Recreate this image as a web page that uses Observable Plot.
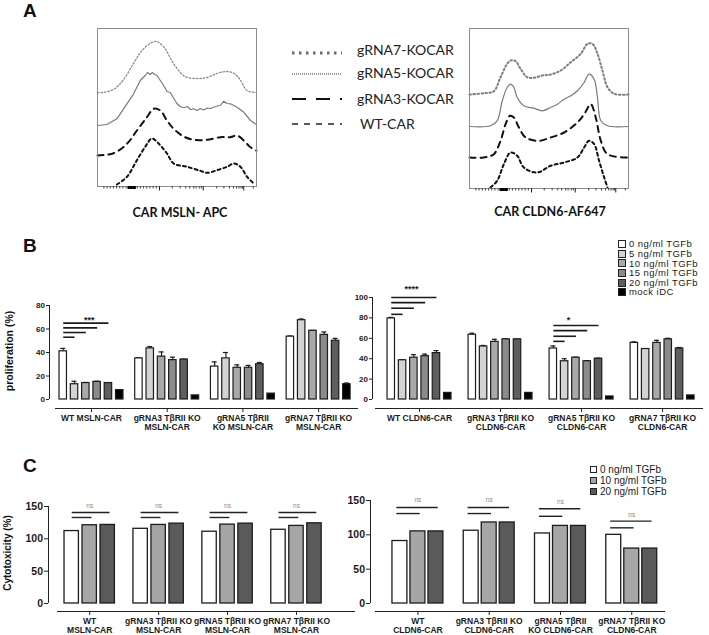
<!DOCTYPE html>
<html>
<head>
<meta charset="utf-8">
<script src="https://cdn.jsdelivr.net/npm/d3@7"></script>
<script src="https://cdn.jsdelivr.net/npm/@observablehq/plot@0.6"></script>
<style>
html,body{margin:0;padding:0;background:#fff;}
#root{position:relative;width:709px;height:635px;overflow:hidden;background:#fff;font-family:"Liberation Sans",Arial,Helvetica,sans-serif;color:#111;}
.t{position:absolute;white-space:nowrap;line-height:1;}
</style>
</head>
<body>
<div id="root"></div>
<script>
// ================= DATA =================
// ---- Panel A: flow histograms (x = % of axis width, y = relative count) ----
const aLegendLabels = ["gRNA7-KOCAR", "gRNA5-KOCAR", "gRNA3-KOCAR", "WT-CAR"];
const histMajorTicks = [39, 66.5, 92];
const histMinorTicks = [4, 6, 8, 10, 12, 14, 16, 18, 25, 27, 29, 31, 33, 35, 37, 47, 52, 55.5, 58, 60.5, 62, 64, 65.3, 75, 79.5, 83, 85.5, 87.5, 89, 90.3, 91.2, 98];
const histDenseTicks = [19.5, 20.5, 21.5, 22.5, 23.5];

const mslnG7x = [0, 3, 10, 16, 23, 28, 33, 37, 42, 46, 50, 55, 63, 69, 75, 81, 86, 90, 94, 100];
const mslnG7y = [0, 0, 3, 12, 30, 42, 49, 51, 45, 34, 24, 16, 14, 15, 19, 21, 19, 12, 2, 0];
const mslnG5x = [0, 5.9, 12.2, 18.5, 22.7, 26.9, 30, 31.5, 33, 34.5, 36, 37.4, 39.5, 41.6, 43.7, 45.8, 48, 50, 52, 54.2, 56.5, 58.5, 60.5, 62.6, 64.7, 66.8, 69, 71, 73.1, 75.2, 77.3, 79.4, 81.5, 83.6, 87.8, 92, 96.2, 100];
const mslnG5y = [0, 1, 6.7, 21.7, 31.7, 45, 50, 53, 51, 53, 51, 50, 45, 40, 34, 33, 27, 22, 19, 17.7, 19, 16, 16.7, 15, 17, 15.5, 17.5, 17, 18.3, 19.5, 20, 24.3, 22, 21.7, 18.3, 13.3, 5, 1];
const mslnG3x = [0, 10.1, 18.5, 24.8, 31.1, 35.3, 39.5, 43.7, 47.9, 54.2, 60.5, 68.9, 77.3, 83.6, 87.8, 92, 96.2, 100];
const mslnG3y = [0, 2.3, 11.7, 25, 38.3, 46.7, 45, 35, 26.7, 19, 15.7, 15.7, 18.3, 18.3, 20, 15, 8.3, 5];
const mslnWTx = [12.2, 18.5, 24.8, 30, 34.2, 38.4, 43.7, 47.9, 56.3, 64.7, 68.9, 75.2, 81.5, 85.7, 89.9, 94.1, 98.3];
const mslnWTy = [0, 7.7, 24.3, 37.7, 46, 41, 31, 21, 17.7, 13.7, 11.7, 14.3, 17.7, 21, 17.7, 7.7, 1];
const mslnOffsets = [94, 61, 31, 2];

const cldnG7x = [0, 9, 15.3, 19.5, 23.7, 25.8, 29, 32.1, 36.3, 40.5, 45.8, 51, 57.4, 63.7, 70, 74.2, 77.3, 80.5, 83.6, 86.8, 91, 100];
const cldnG7y = [0, 1.3, 3.3, 17.3, 30.7, 34, 33.3, 25.7, 17.3, 16.7, 19, 20, 24, 32.3, 40.7, 50.7, 50.7, 40.7, 24, 7.3, 0.7, 0];
const cldnG5x = [0, 13.2, 17.4, 20.6, 23.7, 25.8, 27.9, 30, 34.2, 40.5, 45.8, 51, 55.3, 59.5, 63.7, 67.9, 72.1, 75.2, 78.4, 80.5, 82.6, 86.8, 100];
const cldnG5y = [0, 0.7, 5.7, 25.7, 39, 42.3, 39, 29, 20.7, 18.3, 15.7, 19, 22.3, 27.3, 30.7, 35.7, 44, 52.3, 47.3, 29, 5.7, 0.7, 0];
const cldnG3x = [0, 9, 15.3, 19.5, 22.7, 25.4, 27.9, 31.1, 35.3, 43.7, 51, 59.5, 67.9, 72.1, 76.3, 79.4, 82.6, 86.8, 100];
const cldnG3y = [0, 0, 3.3, 16.7, 33.3, 41.7, 40, 30, 20, 16.7, 20, 25, 35, 43.3, 53.3, 40, 16.7, 3.3, 0];
const cldnWTx = [13.2, 17.4, 21.6, 25.8, 30, 34.2, 42.6, 51, 59.5, 67.9, 72.1, 75.2, 78.4, 81.5, 84.7, 86.8];
const cldnWTy = [0, 6.7, 23.3, 35, 31.7, 20, 15, 21.7, 25, 30, 40, 46.7, 43.3, 26.7, 10, 0];
const cldnOffsets = [94, 62, 31, 1];

// ---- Panel B: proliferation (%) ----
const bDoses = ["0 ng/ml TGFb", "5 ng/ml TGFb", "10 ng/ml TGFb", "15 ng/ml TGFb", "20 ng/ml TGFb", "mock iDC"];
const bColors = ["#ffffff", "#d3d3d3", "#a9a9a9", "#8b8b8b", "#5e5e5e", "#000000"];
const bGroupsMsln = ["WT MSLN-CAR", "gRNA3 TβRII KO\nMSLN-CAR", "gRNA5 TβRII\nKO MSLN-CAR", "gRNA7 TβRII KO\nMSLN-CAR"];
const bGroupsCldn = ["WT CLDN6-CAR", "gRNA3 TβRII KO\nCLDN6-CAR", "gRNA5 TβRII KO\nCLDN6-CAR", "gRNA7 TβRII KO\nCLDN6-CAR"];
const mslnProlif = [[41, 13, 14, 15, 14, 8], [35, 43.5, 36.5, 33.5, 34, 3.5], [28, 35, 27, 27, 30, 5], [53.5, 67.5, 58.5, 55, 50, 13]];
const mslnProlifErr = [[2.5, 2.5, 0.5, 0.5, 0.3, 0], [0.5, 1.5, 4, 2.5, 0.3, 0], [4, 5, 2.5, 2, 1.5, 0], [0.5, 1, 0.3, 2.5, 2, 1]];
const cldnProlif = [[79.5, 38.5, 41, 42.5, 45.5, 6.5], [63.5, 52, 56.5, 59, 59, 6.5], [50, 37.5, 41, 37.5, 40, 3], [55.5, 49.5, 55.5, 59, 50, 4]];
const cldnProlifErr = [[1, 0.5, 3, 2, 2.5, 0], [1.5, 1, 2.5, 0.5, 0.3, 0], [2.5, 2.5, 0.5, 0.5, 0.5, 0], [1, 0, 2.5, 1, 1, 0]];
const bTicksMsln = [0, 20, 40, 60, 80];
const bTicksCldn = [0, 20, 40, 60, 80, 100];
// significance brackets: group index, line levels (to dose 1..4), star label, its level and position
const mslnSig = [{group: 0, levels: [53, 57, 61, 65], label: "***", labelLevel: 67.8, labelDose: 2, labelShift: 0.3}];
const cldnSig = [
  {group: 0, levels: [83.5, 89.5, 95, 100], label: "****", labelLevel: 108.5, labelDose: 2, labelShift: -0.2},
  {group: 2, levels: [57, 62, 67.5, 72.5], label: "*", labelLevel: 78, labelDose: 1, labelShift: 0.35}
];

// ---- Panel C: cytotoxicity (%) ----
const cDoses = ["0 ng/ml TGFb", "10 ng/ml TGFb", "20 ng/ml TGFb"];
const cColors = ["#ffffff", "#a6a6a6", "#5a5a5a"];
const cGroupsMsln = ["WT\nMSLN-CAR", "gRNA3 TβRII KO\nMSLN-CAR", "gRNA5 TβRII KO\nMSLN-CAR", "gRNA7 TβRII KO\nMSLN-CAR"];
const cGroupsCldn = ["WT\nCLDN6-CAR", "gRNA3 TβRII KO\nCLDN6-CAR", "gRNA5 TβRII\nKO CLDN6-CAR", "gRNA7 TβRII KO\nCLDN6-CAR"];
const mslnCyto = [[112, 121, 121.5], [115.5, 121.5, 123.5], [111, 122, 123.5], [114, 120, 124]];
const cldnCyto = [[91, 105, 105], [106, 118, 118], [102, 113, 113], [100, 80, 80]];
const cTicks = [0, 50, 100, 150];
// ns brackets per group: [lower line, upper line, "ns" label]
const mslnNs = [[133, 140.7, 151.5], [133, 140.7, 151.5], [133, 140.7, 151.5], [133, 140.7, 151.5]];
const cldnNs = [[131, 139.8, 151.4], [131, 139.8, 151.4], [127, 137.9, 147.5], [110.2, 119.9, 129.2]];

// ================= RENDER =================
const root = document.getElementById("root");
const plotStyle = {background: "transparent", fontFamily: '"Liberation Sans", Arial, Helvetica, sans-serif', fontSize: "8.5px", fontWeight: "bold", overflow: "visible", color: "#1a1a1a"};

function place(el, left, top) {
  el.style.position = "absolute";
  el.style.left = left + "px";
  el.style.top = top + "px";
  root.appendChild(el);
}
function txt(s, x, y, css, mode) {
  const d = document.createElement("div");
  d.className = "t";
  d.textContent = s;
  Object.assign(d.style, css || {});
  d.style.left = x + "px";
  d.style.top = y + "px";
  d.style.transform = mode === "center" ? "translate(-50%,-50%)" : mode === "rot" ? "translate(-50%,-50%) rotate(-90deg)" : "translate(0,-50%)";
  root.appendChild(d);
}

// ---------- Panel A ----------
function histogram(curves, offsets, styles, opt) {
  const marks = [];
  curves.forEach((c, k) => {
    const pts = c[0].map((x, i) => ({x, y: c[1][i] + offsets[k]}));
    const s = styles[k];
    marks.push(Plot.line(pts, {x: "x", y: "y", curve: s.curve, stroke: s.stroke, strokeWidth: s.width, strokeDasharray: s.dash}));
  });
  marks.push(Plot.frame({stroke: "#8d8d8d", strokeWidth: 1}));
  marks.push(Plot.axisX({ticks: histMinorTicks, tickSize: 2.5, tickFormat: () => "", label: null, stroke: "#444"}));
  marks.push(Plot.axisX({ticks: histDenseTicks, tickSize: 3, tickFormat: () => "", label: null, stroke: "#000", strokeWidth: 2}));
  marks.push(Plot.axisX({ticks: histMajorTicks, tickSize: 4.5, tickFormat: () => "", label: null, stroke: "#222"}));
  const svg = Plot.plot({
    width: opt.w, height: opt.h, marginLeft: 1, marginRight: 1, marginTop: 1, marginBottom: opt.mb,
    x: {domain: [0, 100]}, y: {domain: [0, opt.ymax], axis: null},
    style: plotStyle, marks
  });
  place(svg, opt.left, opt.top);
}

histogram(
  [[mslnG7x, mslnG7y], [mslnG5x, mslnG5y], [mslnG3x, mslnG3y], [mslnWTx, mslnWTy]], mslnOffsets,
  [
    {stroke: "#8a8a8a", width: 1.3, dash: "1.5,2", curve: "catmull-rom"},
    {stroke: "#7a7a7a", width: 1.2, dash: null, curve: "linear"},
    {stroke: "#111", width: 2, dash: "6,5", curve: "catmull-rom"},
    {stroke: "#111", width: 2, dash: "3,3", curve: "catmull-rom"}
  ],
  {w: 161, h: 169, mb: 10, ymax: 158, left: 96, top: 27}
);
histogram(
  [[cldnG7x, cldnG7y], [cldnG5x, cldnG5y], [cldnG3x, cldnG3y], [cldnWTx, cldnWTy]], cldnOffsets,
  [
    {stroke: "#7d7d7d", width: 2, dash: "1.5,2.5", curve: "catmull-rom"},
    {stroke: "#7a7a7a", width: 1.2, dash: null, curve: "catmull-rom"},
    {stroke: "#111", width: 2, dash: "6,5", curve: "catmull-rom"},
    {stroke: "#111", width: 2, dash: "3,3", curve: "catmull-rom"}
  ],
  {w: 161, h: 171, mb: 10, ymax: 160, left: 468, top: 27}
);

// legend for panel A (line swatches)
(function () {
  const styles = [
    {stroke: "#6a6a6a", width: 3, dash: "2.5,4.5"},
    {stroke: "#333", width: 1, dash: "1,1"},
    {stroke: "#111", width: 2, dash: "14,10"},
    {stroke: "#222", width: 1.5, dash: "6,6"}
  ];
  const lineY = [13, 34, 59, 84];
  const svg = d3.create("svg").attr("width", 60).attr("height", 100);
  aLegendLabels.forEach((l, i) => {
    svg.append("line").attr("x1", 4).attr("x2", 54).attr("y1", lineY[i]).attr("y2", lineY[i])
      .attr("stroke", styles[i].stroke).attr("stroke-width", styles[i].width).attr("stroke-dasharray", styles[i].dash);
  });
  place(svg.node(), 288, 40);
  const textY = [50, 73, 99, 124];
  aLegendLabels.forEach((l, i) => txt(l, i === 3 ? 360 : 357, textY[i], {fontFamily: "Lato, 'Open Sans', sans-serif", fontSize: "14px", color: "#222"}));
})();

txt("CAR MSLN- APC", 180, 213, {fontFamily: "Lato, sans-serif", fontWeight: "bold", fontSize: "12.5px"}, "center");
txt("CAR CLDN6-AF647", 550, 212, {fontFamily: "Lato, sans-serif", fontWeight: "bold", fontSize: "12.5px"}, "center");

// ---------- Bar charts (panels B, C) ----------
function barChart(o) {
  const nD = o.doses.length;
  const barC = (gi, di) => gi * o.gStep + di + o.bw / 2;
  const rows = [];
  o.groups.forEach((g, gi) => o.doses.forEach((d, di) => rows.push({
    dose: d, v: o.means[gi][di], e: o.errs ? o.errs[gi][di] : 0,
    x1: gi * o.gStep + di, x2: gi * o.gStep + di + o.bw, xc: barC(gi, di)
  })));
  const centers = o.groups.map((g, gi) => gi * o.gStep + (nD - 1 + o.bw) / 2);
  const labelOf = new Map(centers.map((c, i) => [c, o.groups[i]]));
  const errRows = rows.filter(r => r.e > 0);
  const marks = [
    Plot.ruleX([o.xDomain[0]], {y1: 0, y2: o.yTicks[o.yTicks.length - 1], stroke: "#222", strokeWidth: 1}),
    Plot.ruleY([o.yDomain[0]], {insetLeft: o.xLineInset, stroke: "#222", strokeWidth: 1}),
    Plot.axisY({ticks: o.yTicks, tickSize: o.yTickSize, tickPadding: 1.5, label: null, fontSize: o.yFont, tickFormat: d => String(d), stroke: "#222"}),
    Plot.axisX({ticks: centers, tickSize: 4, tickPadding: 1.5, label: null, tickFormat: c => labelOf.get(c), fontSize: o.xFont, lineHeight: 1.08, stroke: "#222"}),
    Plot.ruleX(errRows, {x: "xc", y1: "v", y2: r => r.v + r.e, stroke: "#1c1c1c", strokeWidth: 1.2}),
    Plot.ruleY(errRows, {y: r => r.v + r.e, x1: r => r.xc - 0.22, x2: r => r.xc + 0.22, stroke: "#1c1c1c", strokeWidth: 1.2}),
    Plot.rect(rows, {x1: "x1", x2: "x2", y1: 0, y2: "v", fill: "dose", stroke: "#1c1c1c", strokeWidth: o.barStroke})
  ];
  (o.sig || []).forEach(s => {
    const links = s.levels.map((lv, k) => ({x1: barC(s.group, 0), x2: barC(s.group, k + 1), y: lv}));
    marks.push(Plot.link(links, {x1: "x1", x2: "x2", y1: "y", y2: "y", stroke: "#1c1c1c", strokeWidth: 1.6}));
    marks.push(Plot.text([s], {x: d => barC(d.group, d.labelDose) + d.labelShift, y: "labelLevel", text: "label", fontSize: 9, fontWeight: "bold"}));
  });
  if (o.ns) {
    const nsLines = [];
    const nsText = [];
    o.ns.forEach((lv, gi) => {
      const start = barC(gi, 0) + o.nsStart;
      nsLines.push({x1: start, x2: barC(gi, 1) + 0.1, y: lv[0]});
      nsLines.push({x1: start, x2: barC(gi, 2) + 0.1, y: lv[1]});
      nsText.push({x: barC(gi, 1), y: lv[2]});
    });
    marks.push(Plot.link(nsLines, {x1: "x1", x2: "x2", y1: "y", y2: "y", stroke: "#222", strokeWidth: 1.4}));
    marks.push(Plot.text(nsText, {x: "x", y: "y", text: () => "ns", fontSize: 6.5, fontWeight: "normal", fill: "#888"}));
  }
  const svg = Plot.plot({
    width: o.width, height: o.height,
    marginLeft: o.marginLeft, marginRight: 2, marginTop: o.marginTop, marginBottom: o.marginBottom,
    x: {domain: o.xDomain}, y: {domain: o.yDomain},
    color: {domain: o.doses, range: o.colors},
    style: plotStyle, marks
  });
  place(svg, o.left, o.top);
}

// Panel B
barChart({
  groups: bGroupsMsln, doses: bDoses, colors: bColors, means: mslnProlif, errs: mslnProlifErr, sig: mslnSig,
  gStep: 6.7, bw: 0.66, xDomain: [-0.885, 26.46], yDomain: [-7.66, 80], yTicks: bTicksMsln,
  xLineInset: 6, yFont: 8, xFont: 8.5, yTickSize: 3, barStroke: 1.2,
  width: 360, height: 143, marginLeft: 49, marginTop: 15, marginBottom: 25, left: 0, top: 290
});
barChart({
  groups: bGroupsCldn, doses: bDoses, colors: bColors, means: cldnProlif, errs: cldnProlifErr, sig: cldnSig,
  gStep: 7.17, bw: 0.66, xDomain: [-1.33, 27.96], yDomain: [-8.8, 100], yTicks: bTicksCldn,
  xLineInset: 3, yFont: 8, xFont: 8.5, yTickSize: 3, barStroke: 1.2,
  width: 365, height: 151, marginLeft: 32, marginTop: 15, marginBottom: 25, left: 340, top: 282
});
// Panel C
barChart({
  groups: cGroupsMsln, doses: cDoses, colors: cColors, means: mslnCyto, ns: mslnNs, nsStart: 0,
  gStep: 3.83, bw: 0.8, xDomain: [-0.89, 16.17], yDomain: [-12.4, 150], yTicks: cTicks,
  xLineInset: 9, yFont: 10.5, xFont: 8.5, yTickSize: 4, barStroke: 1.3,
  width: 357, height: 155, marginLeft: 48, marginTop: 26, marginBottom: 24, left: 0, top: 480
});
barChart({
  groups: cGroupsCldn, doses: cDoses, colors: cColors, means: cldnCyto, ns: cldnNs, nsStart: -0.2,
  gStep: 3.96, bw: 0.83, xDomain: [-1.22, 15.17], yDomain: [-11.65, 150], yTicks: cTicks,
  xLineInset: 5, yFont: 10.5, xFont: 8.5, yTickSize: 4, barStroke: 1.3,
  width: 327, height: 161, marginLeft: 30, marginTop: 26, marginBottom: 24, left: 340, top: 474
});

// axis titles
txt("proliferation (%)", 9, 351, {fontWeight: "bold", fontSize: "10.5px"}, "rot");
txt("Cytotoxicity (%)", 8, 553, {fontWeight: "bold", fontSize: "10px"}, "rot");

// swatch legends
function swatchLegend(labels, colors, left, top, rowH, fontSize, sw, gap, spacing) {
  const box = document.createElement("div");
  box.style.position = "absolute";
  box.style.left = left + "px";
  box.style.top = top + "px";
  labels.forEach((l, i) => {
    const row = document.createElement("div");
    row.style.cssText = `display:flex;align-items:center;height:${rowH}px;line-height:${rowH}px;font-size:${fontSize}px;letter-spacing:${spacing}px;white-space:nowrap;color:#1a1a1a;overflow:visible;`;
    const s = document.createElement("span");
    s.style.cssText = `display:inline-block;box-sizing:border-box;width:${sw}px;height:${sw}px;border:1px solid #222;background:${colors[i]};margin-right:${gap}px;flex:none;`;
    const t = document.createElement("span");
    t.style.cssText = `line-height:${rowH}px;`;
    t.textContent = l;
    row.appendChild(s);
    row.appendChild(t);
    box.appendChild(row);
  });
  root.appendChild(box);
}
swatchLegend(bDoses, bColors, 618, 239.2, 9.67, 9.5, 8, 3, 0.45);
swatchLegend(cDoses, cColors, 590, 463.5, 11, 10, 7, 3, 0);

// panel letters
["A", "B", "C"].forEach((l, i) => txt(l, 23, [10, 245, 465][i], {fontWeight: "bold", fontSize: "19px"}));
</script>
</body>
</html>
